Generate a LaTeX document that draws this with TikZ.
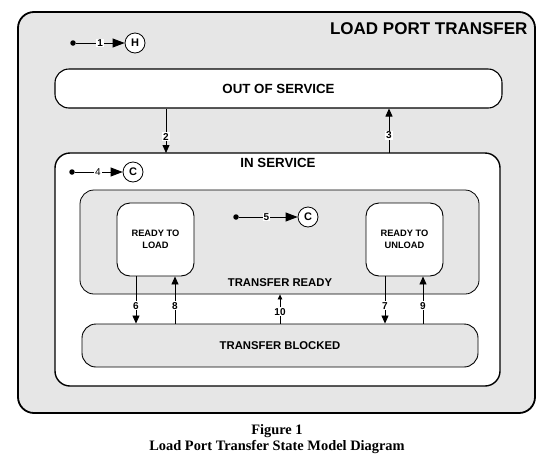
\documentclass[tikz,border=0pt]{standalone}
\usepackage{fontspec}
\setmainfont{Liberation Sans}
\newfontfamily\capfont{Liberation Serif}
\usetikzlibrary{arrows.meta}
\definecolor{bgray}{RGB}{230,230,230}
\tikzset{
  statebox/.style={draw=black, rounded corners=14pt, line width=1.1pt, inner sep=0pt, font=\bfseries\fontsize{13.3}{14}\selectfont},
  smallbox/.style={draw=black, rounded corners=13pt, line width=0.9pt, fill=white, inner sep=0pt, align=center, font=\bfseries\fontsize{9.3}{11.5}\selectfont},
  trans/.style={line width=0.8pt, -{Triangle[length=8pt,width=7pt]}},
  inittrans/.style={line width=0.8pt, -{Triangle[length=12pt,width=9pt]}},
  lbl/.style={fill=white, inner sep=1pt, font=\bfseries\fontsize{10}{11}\selectfont},
  initdot/.style={circle, fill=black, inner sep=0pt, minimum size=5.5pt},
  hist/.style={circle, draw=black, line width=0.8pt, fill=white, inner sep=0pt, minimum size=20pt, font=\bfseries\fontsize{11}{11}\selectfont},
}
\begin{document}
\begin{tikzpicture}[x=1pt,y=-1pt]
\useasboundingbox (0,0) rectangle (554,464);
% outer
\node[draw=black, line width=1.8pt, rounded corners=16pt, fill=bgray, minimum width=517pt, minimum height=401pt, inner sep=0pt] (outer) at (276.5,212.5) {};
\node[anchor=east, font=\bfseries\fontsize{17}{18}\selectfont] (title) at (531,29) {LOAD PORT TRANSFER};
% initial 1
\node[initdot] (i1) at (73,43) {};
\node[hist] (h1) at (135,43) {H};
\draw[inittrans] (i1) -- (h1) node[lbl, pos=0.5] (l1) {1};
% out of service
\node[statebox, fill=white, minimum width=447pt, minimum height=39pt] (oos) at (278.5,88.5) {OUT OF SERVICE};
% in service
\node[statebox, fill=white, line width=1.4pt, rounded corners=15pt, minimum width=445pt, minimum height=233pt] (ins) at (277.5,269.5) {};
\node[font=\bfseries\fontsize{13.3}{14}\selectfont] (instext) at (278,163) {IN SERVICE};
% transitions 2 and 3
\coordinate (t2a) at (166,108.5);
\coordinate (t2b) at (166,153);
\draw[trans] (t2a) -- (t2b) node[lbl, pos=0.63] (l2) {2};
\coordinate (t3a) at (389,153);
\coordinate (t3b) at (389,108.5);
\draw[trans] (t3a) -- (t3b) node[lbl, pos=0.40] (l3) {3};
% initial 4
\node[initdot] (i4) at (72,172) {};
\node[hist] (h4) at (133,172) {C};
\draw[inittrans] (i4) -- (h4) node[lbl, pos=0.48, font=\fontsize{10}{11}\selectfont] (l4) {4};
% transfer ready
\node[draw=black, line width=0.8pt, rounded corners=14pt, fill=bgray, minimum width=399pt, minimum height=104pt, inner sep=0pt] (tr) at (279.5,242) {};
\node[font=\bfseries\fontsize{11.3}{12}\selectfont] (trtext) at (280,283) {TRANSFER READY};
\node[smallbox, minimum width=77pt, minimum height=73pt] (rtl) at (155.5,239.5) {READY TO\\LOAD};
\node[smallbox, minimum width=77pt, minimum height=73pt] (rtu) at (404.5,239.5) {READY TO\\UNLOAD};
% initial 5
\node[initdot] (i5) at (236,217) {};
\node[hist] (h5) at (308,217) {C};
\draw[inittrans] (i5) -- (h5) node[lbl, pos=0.47] (l5) {5};
% transfer blocked
\node[statebox, fill=bgray, line width=0.9pt, minimum width=396pt, minimum height=43pt, font=\bfseries\fontsize{11.3}{12}\selectfont] (tb) at (280,345.5) {TRANSFER BLOCKED};
% transitions 6-10
\draw[trans] (rtl.south -| 136,0) -- (tb.north -| 136,0) node[lbl, pos=0.62] (l6) {6};
\draw[trans] (tb.north -| 175,0) -- (rtl.south -| 175,0) node[lbl, pos=0.38] (l8) {8};
\draw[line width=0.8pt, -{Triangle[length=5pt,width=4.5pt]}] (tb.north -| 280,0) -- (tr.south -| 280,0) node[lbl, pos=0.4] (l10) {10};
\draw[trans] (rtu.south -| 385,0) -- (tb.north -| 385,0) node[lbl, pos=0.62] (l7) {7};
\draw[trans] (tb.north -| 423,0) -- (rtu.south -| 423,0) node[lbl, pos=0.38] (l9) {9};
% caption
\node[font=\capfont\bfseries\fontsize{14.4}{15}\selectfont] (fig) at (277,431) {Figure 1};
\node[font=\capfont\bfseries\fontsize{14.4}{15}\selectfont] (cap) at (277,447) {Load Port Transfer State Model Diagram};
\end{tikzpicture}
\end{document}
